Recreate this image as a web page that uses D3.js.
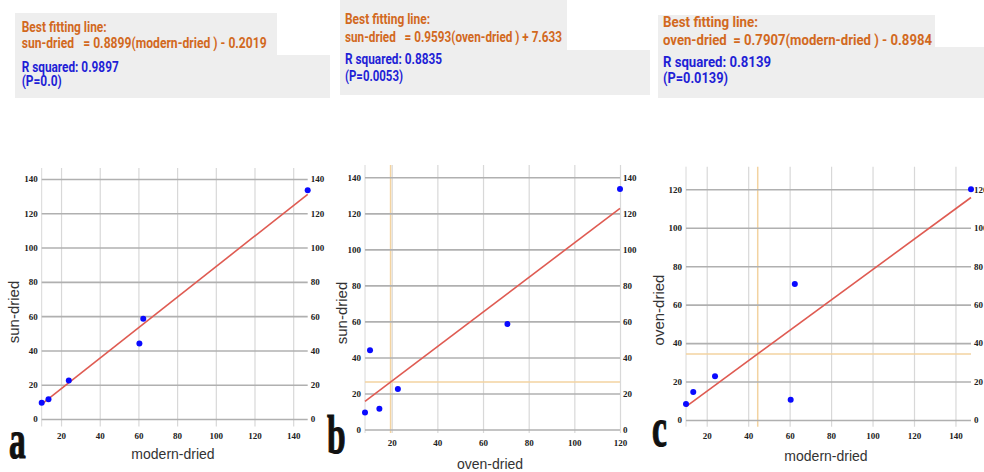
<!DOCTYPE html>
<html>
<head>
<meta charset="utf-8">
<script src="https://cdn.jsdelivr.net/npm/d3@7"></script>
<style>
  body { margin: 0; background: #fff; }
  svg { display: block; }
  .tick text { font-family: "Liberation Serif", "Times New Roman", serif; font-weight: bold; font-size: 9px; fill: #222; }
  .head text { font-family: Roboto, sans-serif; font-weight: bold; font-size: 14.5px; white-space: pre; }
</style>
</head>
<body>
<svg id="chart" width="984" height="472"></svg>
<script>
var modernDried = [10, 13.5, 24, 60.5, 62.5, 147.5];
var ovenDried = [8.3, 14.6, 22.7, 10.5, 70.7, 120];
var sunDried = [9.5, 11.5, 22.5, 44, 58.5, 133.5];

var panelLetters = ['a', 'b', 'c'];
var xNames = ['modern-dried', 'oven-dried', 'modern-dried'];
var yNames = ['sun-dried', 'sun-dried', 'oven-dried'];
var fitSlope = [0.8899, 0.9593, 0.7907];
var fitIntercept = [-0.2019, 7.633, -0.8984];
var fitText = [
  'sun-dried   = 0.8899(modern-dried ) - 0.2019',
  'sun-dried   = 0.9593(oven-dried ) + 7.633',
  'oven-dried  = 0.7907(modern-dried ) - 0.8984'
];
var rSquared = ['0.9897', '0.8835', '0.8139'];
var pValues = ['0.0', '0.0053', '0.0139'];
var crossX = [null, 19.5, 44.6];

var xTicks = [
  [20, 40, 60, 80, 100, 120, 140],
  [20, 40, 60, 80, 100, 120],
  [20, 40, 60, 80, 100, 120, 140]
];
var yTicks = [
  [0, 20, 40, 60, 80, 100, 120, 140],
  [0, 20, 40, 60, 80, 100, 120, 140],
  [0, 20, 40, 60, 80, 100, 120]
];

// pixel layout of each panel (plot box + where 0 and the top tick sit)
var layout = [
  { left: 41.7, right: 307.7, top: 168, bottom: 426.5, y0: 419, yHi: 179, hi: 140,
    xLab: [173, 459], yLab: [19, 312], letter: [9, 458], xTickY: 433,
    head: { x: 21.7, base: [32, 48, 72, 86], box: [15, 13, 277, 55, 330, 98], w: [85, 245, 97, 40] } },
  { left: 365, right: 620, top: 165, bottom: 433, y0: 429.5, yHi: 177.3, hi: 140,
    xLab: [490, 469], yLab: [347, 313], letter: [327, 453], xTickY: 440,
    head: { x: 345, base: [24, 41.7, 64.3, 80.7], box: [340, 0, 567, 50, 650, 95], w: [85, 217, 97, 58] } },
  { left: 686, right: 971, top: 166.7, bottom: 426.7, y0: 420, yHi: 189.3, hi: 120,
    xLab: [826, 461], yLab: [664, 310], letter: [652, 446], xTickY: 433,
    head: { x: 663, base: [27.3, 45, 66.7, 82.7], box: [658, 15, 935, 47, 984, 98], w: [95, 269, 108, 65] } }
];

var svg = d3.select('#chart');

var pairs = [
  [modernDried, sunDried],
  [ovenDried, sunDried],
  [modernDried, ovenDried]
];

pairs.forEach(function(pair, i) {
  drawPanel(i, pair[0], pair[1]);
});

function drawPanel(i, xs, ys) {
  var L = layout[i];
  var g = svg.append('g');

  var x = d3.scaleLinear().domain(d3.extent(xs)).range([L.left, L.right]);
  var y = d3.scaleLinear().domain([0, L.hi]).range([L.y0, L.yHi]);

  // header block
  var h = L.head;
  var b = h.box;
  svg.insert('path', ':first-child')
    .attr('d', 'M' + b[0] + ',' + b[1] + 'H' + b[2] + 'V' + b[3] + 'H' + b[4] + 'V' + b[5] + 'H' + b[0] + 'Z')
    .attr('fill', '#eeeeee');
  var head = g.append('g').attr('class', 'head');
  var lines = [
    ['Best fitting line:', '#d2691e'],
    [fitText[i], '#d2691e'],
    ['R squared: ' + rSquared[i], '#1f1fd6'],
    ['(P=' + pValues[i] + ')', '#1f1fd6']
  ];
  lines.forEach(function(ln, k) {
    head.append('text')
      .attr('x', h.x)
      .attr('y', h.base[k])
      .attr('fill', ln[1])
      .attr('xml:space', 'preserve')
      .attr('textLength', h.w[k])
      .attr('lengthAdjust', 'spacingAndGlyphs')
      .text(ln[0]);
  });

  // vertical grid (light) via bottom axis
  g.append('g')
    .attr('transform', 'translate(0,' + L.bottom + ')')
    .call(d3.axisBottom(x).tickValues(xTicks[i]).tickSize(-(L.bottom - L.top)).tickPadding(L.xTickY - L.bottom))
    .call(function(ax) {
      ax.select('.domain').remove();
      ax.selectAll('.tick line').attr('stroke', '#d8d8d8').attr('stroke-width', 1.2);
    });
  // left edge
  g.append('line')
    .attr('x1', L.left).attr('x2', L.left)
    .attr('y1', L.top).attr('y2', L.bottom)
    .attr('stroke', '#d8d8d8');

  // crosshair
  if (crossX[i] != null) {
    var cx = crossX[i];
    var cy = fitSlope[i] * cx + fitIntercept[i];
    g.append('line')
      .attr('x1', x(cx)).attr('x2', x(cx))
      .attr('y1', L.top).attr('y2', L.bottom)
      .attr('stroke', '#f3d3a0').attr('stroke-width', 1.5);
    g.append('line')
      .attr('x1', L.left).attr('x2', L.right)
      .attr('y1', y(cy)).attr('y2', y(cy))
      .attr('stroke', '#f3d3a0').attr('stroke-width', 1.5);
  }

  // horizontal grid (dark) via left axis
  g.append('g')
    .attr('transform', 'translate(' + L.left + ',0)')
    .call(d3.axisLeft(y).tickValues(yTicks[i]).tickSize(-(L.right - L.left)).tickPadding(4))
    .call(function(ax) {
      ax.select('.domain').remove();
      ax.selectAll('.tick line').attr('stroke', '#b0b0b0').attr('stroke-width', 1.6);
    });
  // right labels
  g.append('g')
    .attr('transform', 'translate(' + L.right + ',0)')
    .call(d3.axisRight(y).tickValues(yTicks[i]).tickSize(0).tickPadding(3))
    .call(function(ax) { ax.select('.domain').remove(); });

  // regression line
  var ext = d3.extent(xs);
  g.append('line')
    .attr('x1', x(ext[0])).attr('y1', y(fitSlope[i] * ext[0] + fitIntercept[i]))
    .attr('x2', x(ext[1])).attr('y2', y(fitSlope[i] * ext[1] + fitIntercept[i]))
    .attr('stroke', '#df5b52').attr('stroke-width', 1.6);

  // points
  g.selectAll('circle.pt')
    .data(xs.map(function(v, k) { return [v, ys[k]]; }))
    .enter()
    .append('circle')
    .attr('class', 'pt')
    .attr('cx', function(d) { return x(d[0]); })
    .attr('cy', function(d) { return y(d[1]); })
    .attr('r', 3)
    .attr('fill', '#0a0aff');

  // axis titles
  g.append('text')
    .attr('x', L.xLab[0]).attr('y', L.xLab[1])
    .attr('text-anchor', 'middle')
    .attr('font-family', 'Liberation Sans, Arial, sans-serif')
    .attr('font-size', 14)
    .attr('fill', '#333')
    .text(xNames[i]);
  g.append('text')
    .attr('transform', 'translate(' + L.yLab[0] + ',' + L.yLab[1] + ') rotate(-90)')
    .attr('text-anchor', 'middle')
    .attr('font-family', 'Liberation Sans, Arial, sans-serif')
    .attr('font-size', 15)
    .attr('fill', '#333')
    .text(yNames[i]);

  // panel letter, squeezed heavy serif
  g.append('text')
    .attr('transform', 'translate(' + L.letter[0] + ',' + L.letter[1] + ') scale(0.62,1)')
    .attr('font-family', 'Liberation Serif, Times New Roman, serif')
    .attr('font-weight', 'bold')
    .attr('font-size', 54)
    .attr('fill', '#111')
    .attr('stroke', '#111')
    .attr('stroke-width', 1.2)
    .text(panelLetters[i]);
}
</script>
</body>
</html>
